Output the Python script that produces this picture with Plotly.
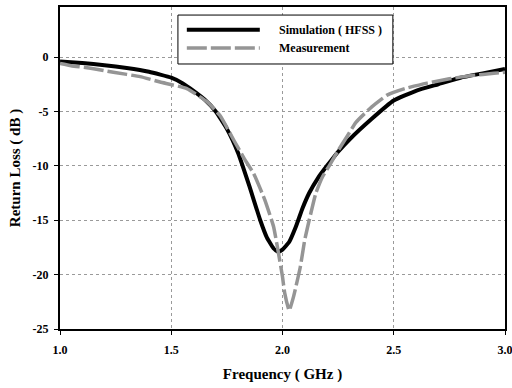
import plotly.graph_objects as go

sim_freq = [1.0, 1.1, 1.2, 1.3, 1.4, 1.5, 1.55, 1.6, 1.65, 1.7, 1.75, 1.8, 1.85, 1.9, 1.93, 1.96, 1.98,
            2.0, 2.03, 2.06, 2.09, 2.12, 2.16, 2.2, 2.25, 2.3, 2.4, 2.5, 2.6, 2.7, 2.8, 2.9, 3.0]
sim_db = [-0.4, -0.55, -0.75, -1.0, -1.35, -1.9, -2.4, -3.1, -3.9, -5.0, -6.6, -8.8, -11.8, -15.0, -16.6, -17.6, -17.9,
          -17.7, -17.0, -15.6, -13.9, -12.5, -11.1, -10.0, -8.7, -7.6, -5.7, -4.0, -3.1, -2.5, -1.9, -1.5, -1.1]

meas_freq = [1.0, 1.05, 1.13, 1.24, 1.36, 1.45, 1.57, 1.66, 1.72, 1.78, 1.83, 1.87, 1.92, 1.96, 1.98, 2.0, 2.01,
             2.03, 2.05, 2.08, 2.1, 2.12, 2.15, 2.18, 2.21, 2.25, 2.29, 2.33, 2.4, 2.47, 2.55, 2.65, 2.75, 2.85, 2.95, 3.0]
meas_db = [-0.6, -0.8, -1.0, -1.4, -1.8, -2.3, -2.9, -4.1, -5.4, -7.6, -9.4, -10.7, -13.1, -15.6, -17.8, -20.2, -21.7,
           -23.3, -22.0, -19.3, -16.8, -15.0, -12.5, -11.0, -10.0, -8.6, -7.3, -6.0, -4.6, -3.5, -2.9, -2.4, -2.0, -1.7, -1.5, -1.4]

x_ticks = [1.0, 1.5, 2.0, 2.5, 3.0]
x_tick_labels = ["1.0", "1.5", "2.0", "2.5", "3.0"]
y_ticks = [0, -5, -10, -15, -20, -25]
y_tick_labels = ["0", "-5", "-10", "-15", "-20", "-25"]
series_names = ["Simulation ( HFSS )", "Measurement"]

FONT = "Liberation Serif, Times New Roman, serif"
SIM_LINE = dict(color="black", width=4)
MEAS_LINE = dict(color="#959595", width=3.5, dash="20px,4px")

fig = go.Figure()
fig.add_trace(go.Scatter(x=sim_freq, y=sim_db, mode="lines", name=series_names[0],
                         line=dict(**SIM_LINE, shape="spline", smoothing=0.4)))
fig.add_trace(go.Scatter(x=meas_freq, y=meas_db, mode="lines", name=series_names[1],
                         line=dict(**MEAS_LINE, shape="spline", smoothing=0.4)))

# legend drawn as a box with line samples and text
shapes = [
    dict(type="rect", xref="paper", yref="paper", x0=0.265, x1=0.748, y0=0.823, y1=0.975,
         line=dict(color="black", width=1), fillcolor="white", layer="above"),
    dict(type="line", xref="paper", yref="paper", x0=0.285, x1=0.449, y0=0.929, y1=0.929,
         line=SIM_LINE, layer="above"),
    dict(type="line", xref="paper", yref="paper", x0=0.285, x1=0.449, y0=0.873, y1=0.873,
         line=MEAS_LINE, layer="above"),
]
annotations = [
    dict(xref="paper", yref="paper", x=0.488, y=0.929, xanchor="left", yanchor="middle",
         text=series_names[0], showarrow=False, font=dict(family=FONT, size=12, weight="bold", color="black")),
    dict(xref="paper", yref="paper", x=0.488, y=0.873, xanchor="left", yanchor="middle",
         text=series_names[1], showarrow=False, font=dict(family=FONT, size=12, weight="bold", color="black")),
]

fig.update_layout(
    width=512, height=388,
    margin=dict(l=60, r=7, t=7, b=59),
    paper_bgcolor="white", plot_bgcolor="white",
    font=dict(family=FONT, color="black", size=12, weight="bold"),
    showlegend=False,
    shapes=shapes,
    annotations=annotations,
)
fig.update_xaxes(range=[1.0, 3.0], tickvals=x_ticks, ticktext=x_tick_labels, automargin=False,
                 ticklabeloverflow="allow",
                 showgrid=True, gridcolor="#9a9a9a", griddash="dot", gridwidth=1,
                 showline=True, linecolor="black", linewidth=2, mirror=True,
                 ticks="outside", ticklen=4, tickcolor="black", zeroline=False, ticklabelstandoff=5,
                 tickfont=dict(family=FONT, size=12, weight="bold"),
                 title=dict(text="Frequency ( GHz )", font=dict(family=FONT, size=15, weight="bold"), standoff=12))
fig.update_yaxes(range=[-25, 4.6], tickvals=y_ticks, ticktext=y_tick_labels, automargin=False,
                 showgrid=True, gridcolor="#9a9a9a", griddash="dot", gridwidth=1,
                 showline=True, linecolor="black", linewidth=2, mirror=True,
                 ticks="outside", ticklen=4, tickcolor="black", zeroline=False, ticklabelstandoff=3,
                 tickfont=dict(family=FONT, size=12, weight="bold"),
                 title=dict(text="Return Loss ( dB )", font=dict(family=FONT, size=15, weight="bold"), standoff=8))

fig.write_html("out.html", config={"displayModeBar": False},
               post_script="document.body.style.margin='0';document.body.style.overflow='hidden';")
